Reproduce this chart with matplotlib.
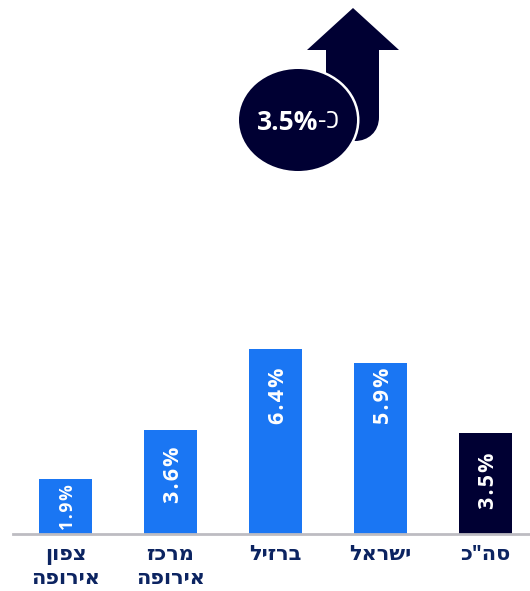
import matplotlib
matplotlib.use("Agg")
import matplotlib.pyplot as plt
from matplotlib.patches import Ellipse, PathPatch, Polygon
from matplotlib.path import Path

plt.rcParams['font.family'] = ['Open Sans', 'DejaVu Sans']

# Hebrew strings in reading order, left-most bar first
regions = ["צפון\nאירופה", "מרכז\nאירופה", "ברזיל", "ישראל", 'סה"כ']
growth = [1.9, 3.6, 6.4, 5.9, 3.5]
callout_prefix = "כ-"
callout_value = 3.5

BLUE = '#1a76f3'
NAVY = '#000033'
LABEL = '#0c2461'
AXIS = '#bdbcc2'
HAIR = '\u200a'


def visual(s):
    # matplotlib has no bidi support, so each line is flipped by hand
    return "\n".join(line[::-1] for line in s.split("\n"))


def spaced(s):
    return HAIR.join(s)


fig = plt.figure(figsize=(5.30, 5.91), dpi=100)
W, H = 530.0, 591.0

# bars: baseline at y=534 px, 28.9 px per percentage point
ax = fig.add_axes([13 / W, (H - 534) / H, (W - 13) / W, 221 / H])
ax.set_xlim(-0.5, 4.424)
ax.set_ylim(0, 221 / 28.9)
colours = [BLUE] * 4 + [NAVY]
ax.bar(range(len(growth)), growth, width=53 / 105, color=colours, linewidth=0)

for side in ('top', 'left', 'right'):
    ax.spines[side].set_visible(False)
ax.spines['bottom'].set_color(AXIS)
ax.spines['bottom'].set_linewidth(2.0)
ax.set_yticks([])
ax.set_xticks(range(len(regions)))
ax.set_xticklabels([visual(r) for r in regions], fontsize=15, fontweight='bold',
                   color=LABEL, linespacing=1.2)
ax.tick_params(axis='x', length=0, pad=7)
ax.patch.set_alpha(0)

# gap between bar top and the start of each rotated value, in points;
# the shortest bar uses a smaller size so the value stays inside it
gaps = [3.5, 12, 13.5, 3, 14.5]
sizes = [12.5, 15.5, 15.5, 15.5, 15.5]
for i, v in enumerate(growth):
    ax.annotate(spaced("%.1f%%" % v), (i, v), xytext=(2, -gaps[i]), textcoords='offset points',
                rotation=90, ha='center', va='top', color='white',
                fontsize=sizes[i], fontweight='bold')

# arrow and bubble, drawn in pixel coordinates over the whole figure
over = fig.add_axes([0, 0, 1, 1])
over.set_xlim(0, W)
over.set_ylim(H, 0)
over.axis('off')
over.add_patch(Polygon([(307, 50), (353, 8), (399, 50)], closed=True, fc=NAVY, ec='none'))
shaft = Path([(326, 50), (379, 50), (379, 117), (379, 132), (368, 141), (355, 141), (326, 141), (326, 50)],
             [Path.MOVETO, Path.LINETO, Path.LINETO, Path.CURVE4, Path.CURVE4, Path.CURVE4,
              Path.LINETO, Path.CLOSEPOLY])
over.add_patch(PathPatch(shaft, fc=NAVY, ec='none'))
# white halo under the disc cuts it away from the arrow
over.add_patch(Ellipse((298, 120), 123, 107, fc='white', ec='none'))
over.add_patch(Ellipse((298, 120), 118, 102, fc=NAVY, ec='none'))
# number in bold, prefix in regular weight after it
over.text(318, 122, "%.1f%%" % callout_value, color='white', fontsize=19, fontweight='bold',
          ha='right', va='center')
over.text(318, 122, visual(callout_prefix), color='white', fontsize=19, fontweight='normal',
          ha='left', va='center')

fig.savefig("out.png", dpi=100)
